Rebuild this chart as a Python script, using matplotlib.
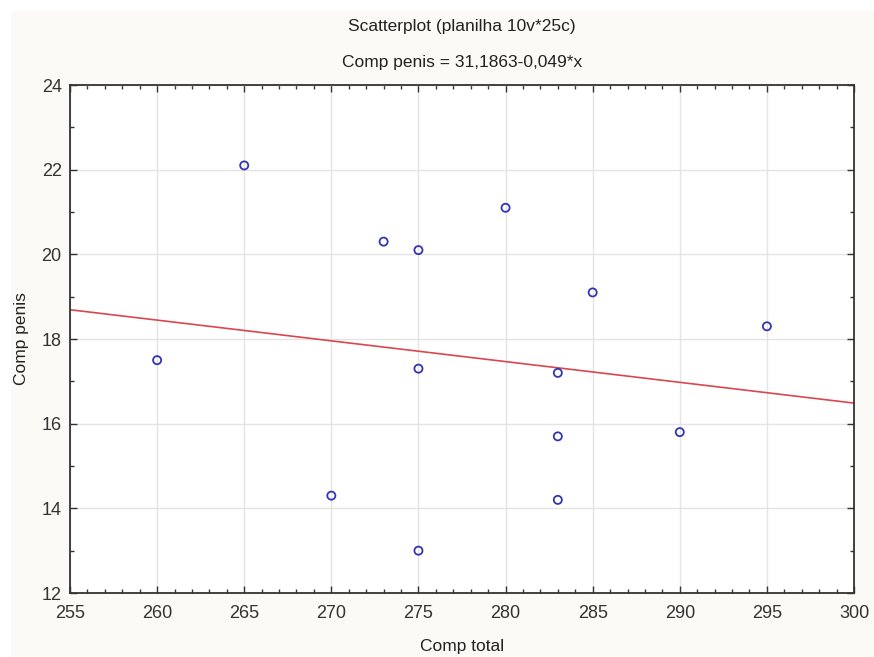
import matplotlib.pyplot as plt
import numpy as np
from matplotlib.ticker import MultipleLocator
from matplotlib.patches import Rectangle

# data
comp_total = [260, 265, 270, 273, 275, 275, 275, 280, 283, 283, 283, 285, 290, 295]
comp_penis = [17.5, 22.1, 14.3, 20.3, 20.1, 17.3, 13.0, 21.1, 17.2, 15.7, 14.2, 19.1, 15.8, 18.3]

# regression from the subtitle
intercept = 31.1863
slope = -0.049
x_range = [255, 300]
y_range = [12, 24]

plt.rcParams['font.family'] = ['Liberation Sans', 'DejaVu Sans']

fig = plt.figure(figsize=(8.74, 6.57), dpi=100, facecolor='white')
# cream panel behind everything (white strip top/left like the screenshot)
fig.patches.append(Rectangle((11 / 874, 0), 1, 1 - 11 / 657, transform=fig.transFigure,
                             facecolor='#fcfaf6', edgecolor='none', zorder=-10))

ax = fig.add_axes([70 / 874, 1 - 593 / 657, (854 - 70) / 874, (593 - 85) / 657])
ax.set_facecolor('white')

ax.grid(True, color='#e4e4e4', linewidth=1.0, zorder=0)

xl = np.array(x_range)
ax.plot(xl, intercept + slope * xl, color='#d9474f', linewidth=1.2, zorder=2)

ax.scatter(comp_total, comp_penis, s=34, facecolors='none', edgecolors='#3535b0',
           linewidths=1.3, zorder=3)

ax.set_xlim(x_range)
ax.set_ylim(y_range)
ax.xaxis.set_major_locator(MultipleLocator(5))
ax.xaxis.set_minor_locator(MultipleLocator(1))
ax.yaxis.set_major_locator(MultipleLocator(2))
ax.yaxis.set_minor_locator(MultipleLocator(1))

ax.tick_params(which='both', direction='in', top=True, right=True, color='#333333',
               labelcolor='#333333', labelsize=13)
ax.tick_params(which='major', length=5, width=1)
ax.tick_params(which='minor', length=3, width=1)
ax.tick_params(axis='x', pad=9)
ax.tick_params(axis='y', pad=6)
for sp in ax.spines.values():
    sp.set_color('#333333')
    sp.set_linewidth(1.3)

ax.set_xlabel('Comp total', fontsize=12.5, color='#222222', labelpad=12)
ax.set_ylabel('Comp penis', fontsize=12.5, color='#222222', labelpad=9)

fig.text(462 / 874, 1 - 27 / 657, 'Scatterplot (planilha 10v*25c)', ha='center', va='center',
         fontsize=12.5, color='#222222')
fig.text(462 / 874, 1 - 62 / 657, 'Comp penis = 31,1863-0,049*x', ha='center', va='center',
         fontsize=12.5, color='#222222')

fig.savefig('out.png', dpi=100, facecolor=fig.get_facecolor())
